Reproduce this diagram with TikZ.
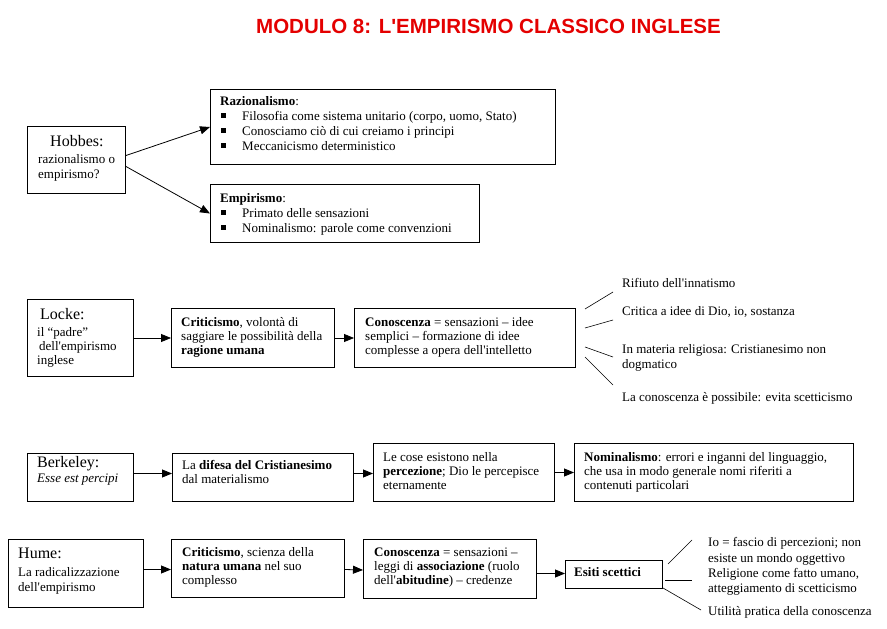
\documentclass[tikz,border=0pt]{standalone}
\usepackage{fontspec}
\setmainfont{Liberation Serif}[Ligatures=TeXOff]
\newfontfamily\titlefont{Liberation Sans}[Ligatures=TeXOff]
\usetikzlibrary{arrows.meta}
\newcommand{\ml}[1]{\begin{tabular}[t]{@{}l@{}}#1\end{tabular}}
\newcommand{\bul}{\makebox[22pt][l]{\hspace{1pt}\rule[2.5pt]{4.5pt}{4.5pt}}}
\definecolor{titlered}{RGB}{228,0,0}
\begin{document}
\begin{tikzpicture}[x=1pt,y=-1pt,
  box/.style={draw, line width=1pt, inner sep=0pt, anchor=north west},
  txt/.style={inner sep=0pt, anchor=base west, font=\fontsize{13}{15}\selectfont},
  txtb/.style={inner sep=0pt, anchor=base west, font=\fontsize{13}{14}\selectfont},
  big/.style={inner sep=0pt, anchor=base west, font=\fontsize{16}{18}\selectfont},
  arr/.style={line width=0.8pt, -{Triangle[length=10pt,width=8pt]}},
  spoke/.style={line width=0.6pt}]
\useasboundingbox (0,0) rectangle (887,629);

% title
\node[anchor=base, inner sep=0pt, text=titlered, font=\titlefont\bfseries\fontsize{20.5}{24}\selectfont] (title) at (488.5,33) {MODULO 8: L'EMPIRISMO CLASSICO INGLESE};

% ---------------- Hobbes
\node[box, minimum width=98pt, minimum height=67pt] (hob) at (27,126) {};
\node[big] (hobt) at (50,146) {Hobbes:};
\node[txt] (hobs) at (38,163) {\ml{razionalismo o\\ empirismo?}};

\node[box, minimum width=345pt, minimum height=75pt] (raz) at (210,89) {};
\node[txt] (razt) at (220,105) {\ml{\textbf{Razionalismo}:\\
  \bul Filosofia come sistema unitario (corpo, uomo, Stato)\\
  \bul Conosciamo ciò di cui creiamo i principi\\
  \bul Meccanicismo deterministico}};

\node[box, minimum width=269pt, minimum height=58pt] (emp) at (210,184) {};
\node[txt] (empt) at (220,202) {\ml{\textbf{Empirismo}:\\
  \bul Primato delle sensazioni\\
  \bul Nominalismo: parole come convenzioni}};

\draw[arr] ([yshift=4.5pt]hob.east) -- (raz.west);
\draw[arr] ([yshift=-6.5pt]hob.east) -- (emp.west);

% ---------------- Locke
\node[box, minimum width=106pt, minimum height=77pt] (loc) at (27,299) {};
\node[big] (loct) at (40,319) {Locke:};
\node[txtb] (locs) at (37,336) {\ml{il “padre”\\ \hspace{2pt}dell'empirismo\\ inglese}};

\node[box, minimum width=163pt, minimum height=59pt] (lcr) at (171,308) {};
\node[txtb] (lcrt) at (181,326) {\ml{\textbf{Criticismo}, volontà di\\ saggiare le possibilità della\\ \textbf{ragione umana}}};

\node[box, minimum width=221pt, minimum height=59pt] (lco) at (354,308) {};
\node[txtb] (lcot) at (365,326) {\ml{\textbf{Conoscenza} = sensazioni – idee\\ semplici – formazione di idee\\ complesse a opera dell'intelletto}};

\draw[arr] (loc.east) -- (lcr.west);
\draw[arr] (lcr.east) -- (lco.west);

\coordinate (la1) at (585,309); \coordinate (lb1) at (613,292);
\coordinate (la2) at (585,328); \coordinate (lb2) at (613,320);
\coordinate (la3) at (585,347); \coordinate (lb3) at (613,357);
\coordinate (la4) at (585,357); \coordinate (lb4) at (613,385);
\draw[spoke] (la1) -- (lb1);
\draw[spoke] (la2) -- (lb2);
\draw[spoke] (la3) -- (lb3);
\draw[spoke] (la4) -- (lb4);
\node[txt] (lr1) at (622,287) {Rifiuto dell'innatismo};
\node[txt] (lr2) at (622,315) {Critica a idee di Dio, io, sostanza};
\node[txt] (lr3) at (622,353) {\ml{In materia religiosa: Cristianesimo non\\ dogmatico}};
\node[txt] (lr4) at (622,401) {La conoscenza è possibile: evita scetticismo};

% ---------------- Berkeley
\node[box, minimum width=106pt, minimum height=48pt] (ber) at (27,453) {};
\node[big] (bert) at (37,467) {Berkeley:};
\node[txt] (bers) at (37,482) {\textit{Esse est percipi}};

\node[box, minimum width=181pt, minimum height=48pt] (dif) at (172,453) {};
\node[txtb] (dift) at (182,469) {\ml{La \textbf{difesa del Cristianesimo}\\ dal materialismo}};

\node[box, minimum width=181pt, minimum height=58pt] (cos) at (373,443) {};
\node[txtb] (cost) at (383,461) {\ml{Le cose esistono nella\\ \textbf{percezione}; Dio le percepisce\\ eternamente}};

\node[box, minimum width=279pt, minimum height=58pt] (nom) at (574,443) {};
\node[txtb] (nomt) at (584,461) {\ml{\textbf{Nominalismo}: errori e inganni del linguaggio,\\ che usa in modo generale nomi riferiti a\\ contenuti particolari}};

\draw[arr] ([yshift=4pt]ber.east) -- ([yshift=4pt]dif.west);
\draw[arr] ([yshift=4pt]dif.east) -- ([yshift=-1pt]cos.west);
\draw[arr] (cos.east) -- (nom.west);

% ---------------- Hume
\node[box, minimum width=135pt, minimum height=68pt] (hum) at (8,539) {};
\node[big] (humt) at (18,558) {Hume:};
\node[txt] (hums) at (18,576) {\ml{La radicalizzazione\\ dell'empirismo}};

\node[box, minimum width=173pt, minimum height=58pt] (hcr) at (171,539) {};
\node[txtb] (hcrt) at (182,556) {\ml{\textbf{Criticismo}, scienza della\\ \textbf{natura umana} nel suo\\ complesso}};

\node[box, minimum width=173pt, minimum height=59pt] (hco) at (363,539) {};
\node[txtb] (hcot) at (374,556) {\ml{\textbf{Conoscenza} = sensazioni –\\ leggi di \textbf{associazione} (ruolo\\ dell'\textbf{abitudine}) – credenze}};

\node[box, minimum width=97pt, minimum height=28pt] (esi) at (565,560) {};
\node[txt] (esit) at (574,576.5) {\textbf{Esiti scettici}};

\draw[arr] ([yshift=4pt]hum.east) -- ([yshift=-1pt]hcr.west);
\draw[arr] ([yshift=-1pt]hcr.east) -- ([yshift=-1pt]hco.west);
\draw[arr] ([yshift=-4.5pt]hco.east) -- ([yshift=1pt]esi.west);

\coordinate (ea1) at (668,564); \coordinate (eb1) at (692,540);
\coordinate (ea2) at (665,580); \coordinate (eb2) at (692,580);
\coordinate (ea3) at (663,588); \coordinate (eb3) at (701,610);
\draw[spoke] (ea1) -- (eb1);
\draw[spoke] (ea2) -- (eb2);
\draw[spoke] (ea3) -- (eb3);
\node[txtb] (er1) at (708,546) {\ml{Io = fascio di percezioni; non\\[2pt] esiste un mondo oggettivo}};
\node[txt] (er2) at (708,577) {\ml{Religione come fatto umano,\\ atteggiamento di scetticismo}};
\node[txt] (er3) at (708,615) {Utilità pratica della conoscenza};
\end{tikzpicture}
\end{document}
